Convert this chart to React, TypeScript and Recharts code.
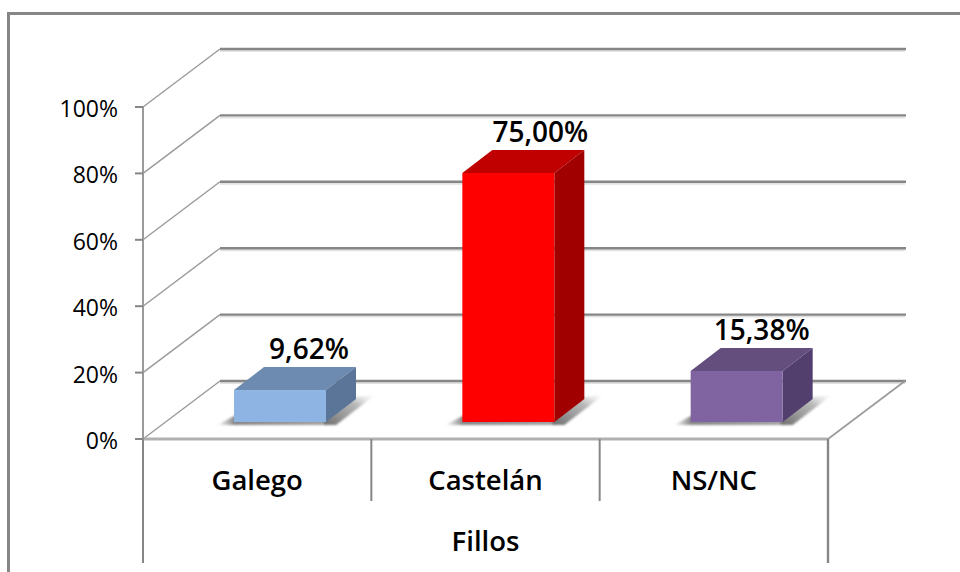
import React from 'react';
import { BarChart, Bar, XAxis, YAxis, CartesianGrid, LabelList } from 'recharts';

const categories = ['Galego', 'Castelán', 'NS/NC'];
const values = [9.62, 75, 15.38];
const yTicks = [0, 20, 40, 60, 80, 100];
const groupLabel = 'Fillos';

const chartData = categories.map((name, i) => ({ name, value: values[i] }));

const FRONT = ['#8eb4e3', '#ff0000', '#8064a2'];
const TOP = ['#6d8ab0', '#c00000', '#634e7e'];
const SIDE = ['#5a7598', '#a00000', '#533f6e'];
const LABEL_NUDGE = [1, 4, -3];

const FONT = '"Open Sans", Lato, sans-serif';
const LINE = '#868686';

// depth of the fake 3D floor, and of a bar standing in the middle of it
const FLOOR_DX = 77;
const FLOOR_DY = 58;
const BAR_SHIFT_X = 23;
const BAR_SHIFT_Y = 17;
const BAR_DX = 30;
const BAR_DY = 23;

const WIDTH = 960;
const HEIGHT = 572;
const PLOT_LEFT = 143;
const PLOT_RIGHT = 828;
const SLOT = (PLOT_RIGHT - PLOT_LEFT) / categories.length;

function poly(points: number[][]) {
  return points.map(p => p.join(',')).join(' ');
}

function gridLine(props: any) {
  const { x1, x2, y1, index } = props;
  const bx1 = x1 + FLOOR_DX;
  const bx2 = x2 + FLOOR_DX;
  const by = y1 - FLOOR_DY;
  const isFloor = Math.abs(y1 - 439) < 1;
  return (
    <g key={`grid-${index}`}>
      <line x1={bx1} y1={by + 2} x2={bx2} y2={by + 2} stroke="#e2e2e2" strokeWidth={2} />
      <line x1={bx1} y1={by} x2={bx2 + 1} y2={by} stroke={LINE} strokeWidth={2.4} />
      <line x1={x1} y1={y1} x2={bx1} y2={by} stroke="#9a9a9a" strokeWidth={1.4} />
      {isFloor && <line x1={x2} y1={y1} x2={bx2} y2={by} stroke="#9a9a9a" strokeWidth={1.6} />}
    </g>
  );
}

function Bar3D(props: any) {
  const { x, y, width, height, index } = props;
  const left = x + BAR_SHIFT_X;
  const right = left + width;
  const top = y - BAR_SHIFT_Y;
  const bottom = top + height;
  return (
    <g>
      <g filter="url(#soft)">
        <polygon
          points={poly([
            [left - 17, bottom + 3],
            [left + 2, bottom - 7],
            [right, bottom - 2],
            [right, bottom + 3],
          ])}
          fill="url(#shadowBottom)"
        />
        <polygon
          points={poly([
            [right - 2, bottom - 2],
            [right + BAR_DX, bottom - BAR_DY - 2],
            [right + BAR_DX + 19, bottom - BAR_DY - 4],
            [right + 10, bottom + 3],
            [right - 2, bottom + 3],
          ])}
          fill="url(#shadowSide)"
        />
      </g>
      <polygon
        points={poly([
          [left, top],
          [left + BAR_DX, top - BAR_DY],
          [right + BAR_DX, top - BAR_DY],
          [right, top],
        ])}
        fill={TOP[index]}
      />
      <polygon
        points={poly([
          [right, top],
          [right + BAR_DX, top - BAR_DY],
          [right + BAR_DX, bottom - BAR_DY],
          [right, bottom],
        ])}
        fill={SIDE[index]}
      />
      <rect x={left} y={top} width={width} height={height} fill={FRONT[index]} />
    </g>
  );
}

function BarValue(props: any) {
  const { x, y, value, index } = props;
  return (
    <text
      x={x + 97 + LABEL_NUDGE[index]}
      y={y - 48}
      textAnchor="middle"
      fontFamily={FONT}
      fontSize={28}
      fontWeight={600}
      fill="#000"
    >
      {`${Number(value).toFixed(2).replace('.', ',')}%`}
    </text>
  );
}

function ValueTick(props: any) {
  const { x, y, payload } = props;
  return (
    <text x={x} y={y + 10} textAnchor="end" fontFamily={FONT} fontSize={23} fill="#000">
      {`${payload.value}%`}
    </text>
  );
}

function CategoryTick(props: any) {
  const { x, y, payload, index } = props;
  const axisY = 439;
  return (
    <g>
      <text x={x} y={490} textAnchor="middle" fontFamily={FONT} fontSize={27.5} fontWeight={600} fill="#000">
        {payload.value}
      </text>
      {index === 0 && <line x1={x - SLOT / 2} y1={y - 8} x2={x - SLOT / 2} y2={563} stroke={LINE} strokeWidth={2} />}
      {index < categories.length - 1 ? (
        <line x1={x + SLOT / 2} y1={axisY} x2={x + SLOT / 2} y2={501} stroke={LINE} strokeWidth={2} />
      ) : (
        <line x1={x + SLOT / 2} y1={axisY} x2={x + SLOT / 2} y2={563} stroke={LINE} strokeWidth={2.4} />
      )}
    </g>
  );
}

export default function App() {
  return (
    <div style={{ position: 'absolute', left: 0, top: 0, width: WIDTH, height: HEIGHT, overflow: 'hidden', background: '#fff' }}>
      <div
        style={{
          position: 'absolute',
          left: 7,
          top: 12,
          right: 0,
          bottom: 0,
          borderLeft: `3px solid ${LINE}`,
          borderTop: `3px solid ${LINE}`,
        }}
      />
      <BarChart
        width={WIDTH}
        height={HEIGHT}
        data={chartData}
        margin={{ top: 107, right: WIDTH - PLOT_RIGHT, bottom: 0, left: 0 }}
        style={{ position: 'absolute', left: 0, top: 0 }}
      >
        <defs>
          <filter id="soft" x="-20%" y="-20%" width="140%" height="140%">
            <feGaussianBlur stdDeviation="1" />
          </filter>
          <linearGradient id="shadowBottom" x1="0" y1="0" x2="1" y2="0">
            <stop offset="0" stopColor="#8a8a8a" stopOpacity={0} />
            <stop offset="0.16" stopColor="#7a7a7a" stopOpacity={0.9} />
            <stop offset="1" stopColor="#999" stopOpacity={0.9} />
          </linearGradient>
          <linearGradient id="shadowSide" x1="0" y1="1" x2="1" y2="0">
            <stop offset="0" stopColor="#666" stopOpacity={0.95} />
            <stop offset="0.65" stopColor="#999" stopOpacity={0.7} />
            <stop offset="1" stopColor="#ccc" stopOpacity={0} />
          </linearGradient>
        </defs>
        <CartesianGrid vertical={false} horizontal={gridLine} />
        <XAxis
          dataKey="name"
          height={133}
          interval={0}
          tick={CategoryTick}
          tickLine={false}
          axisLine={{ stroke: '#b0b0b0', strokeWidth: 3 }}
          label={{
            value: groupLabel,
            position: 'insideBottom',
            offset: 21,
            fontFamily: FONT,
            fontSize: 27.5,
            fontWeight: 600,
            fill: '#000',
          }}
        />
        <YAxis
          width={PLOT_LEFT}
          domain={[0, 100]}
          ticks={yTicks}
          interval={0}
          tickSize={8}
          tickMargin={17}
          tick={ValueTick}
          tickLine={{ stroke: LINE, strokeWidth: 2 }}
          axisLine={{ stroke: '#9a9a9a', strokeWidth: 2 }}
        />
        <Bar dataKey="value" barSize={92} shape={Bar3D} isAnimationActive={false}>
          <LabelList dataKey="value" content={BarValue} />
        </Bar>
      </BarChart>
    </div>
  );
}
